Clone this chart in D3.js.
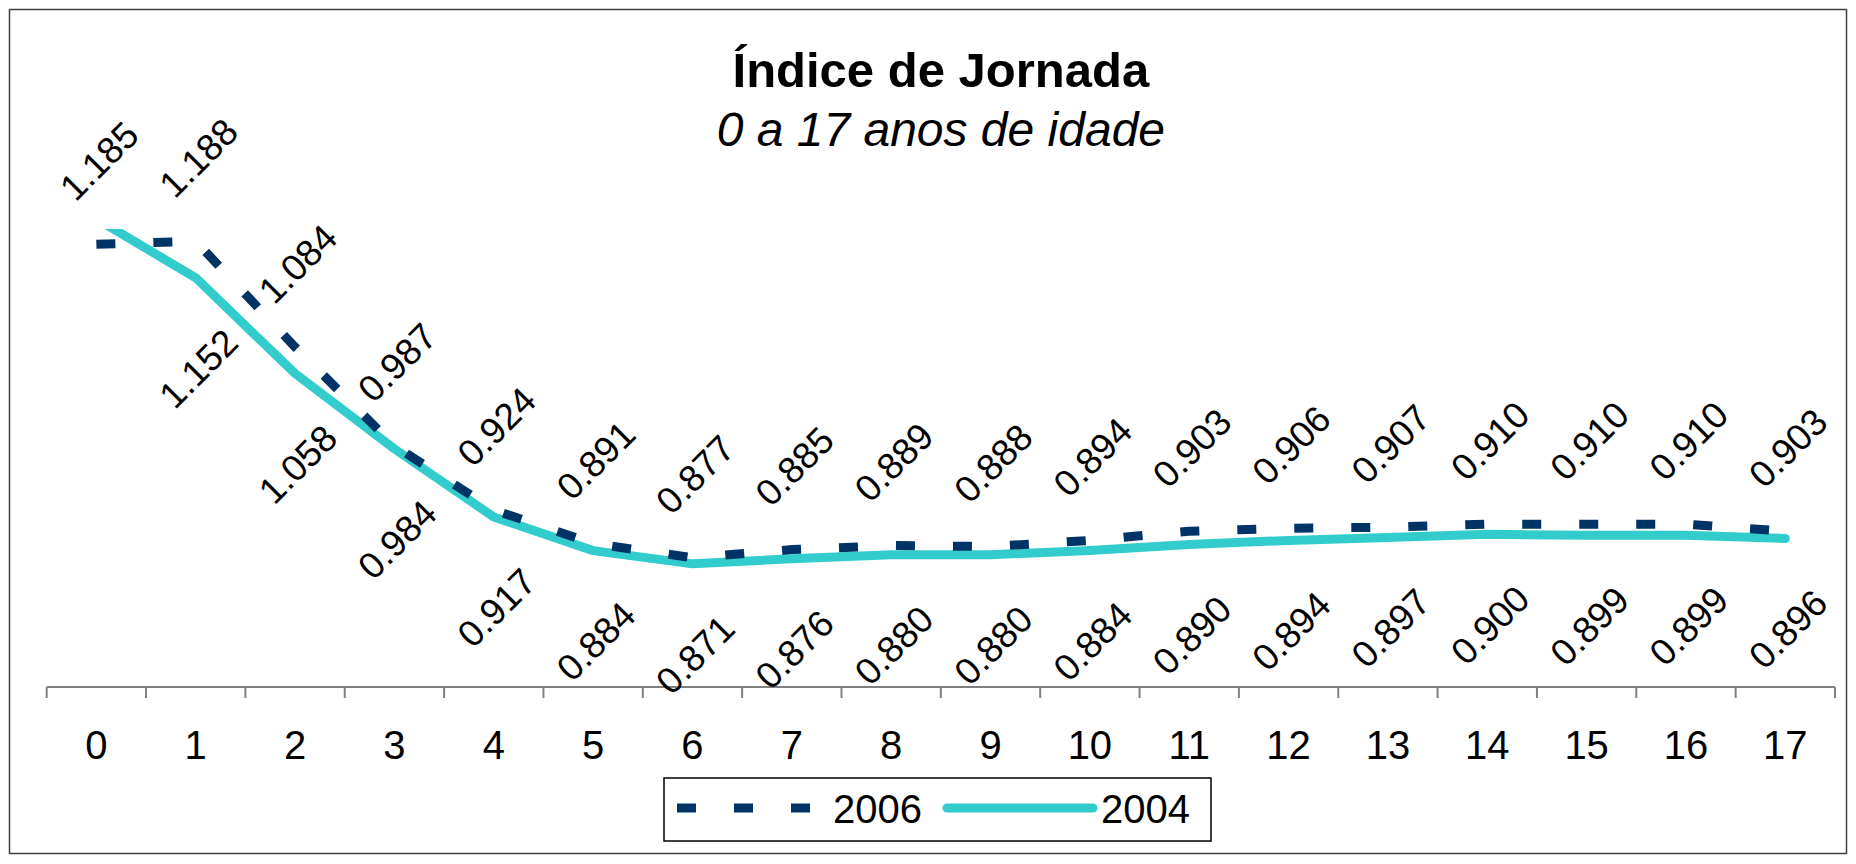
<!DOCTYPE html>
<html>
<head>
<meta charset="utf-8">
<script src="https://cdn.jsdelivr.net/npm/d3@7"></script>
<style>
  html, body { margin: 0; padding: 0; background: #fff; }
  svg { display: block; font-family: Arial, "Liberation Sans", sans-serif; }
</style>
</head>
<body>
<svg id="chart"></svg>
<script>
const AGES     = ["0","1","2","3","4","5","6","7","8","9","10","11","12","13","14","15","16","17"];
const VAL_2006 = [1.185, 1.188, 1.084, 0.987, 0.924, 0.891, 0.877, 0.885, 0.889, 0.888, 0.894, 0.903, 0.906, 0.907, 0.910, 0.910, 0.910, 0.903];
const VAL_2004 = [1.210, 1.152, 1.058, 0.984, 0.917, 0.884, 0.871, 0.876, 0.880, 0.880, 0.884, 0.890, 0.894, 0.897, 0.900, 0.899, 0.899, 0.896];
const Y_DOMAIN = [0.75, 1.2];

const TITLE    = "Índice de Jornada";
const SUBTITLE = "0 a 17 anos de idade";

const W = 1856, H = 864;
const PLOT = { left: 46.7, right: 1835, top: 229, bottom: 687 };

const C_2006 = "#003366";
const C_2004 = "#33CCCC";
const DASH   = "19 38";

const svg = d3.select("#chart").attr("width", W).attr("height", H);

const x = d3.scaleBand().domain(AGES).range([PLOT.left, PLOT.right]).padding(0);
const y = d3.scaleLinear().domain(Y_DOMAIN).range([PLOT.bottom, PLOT.top]);
const cx = (i) => x(AGES[i]) + x.bandwidth() / 2;

// outer frame
svg.append("rect")
  .attr("x", 9.5).attr("y", 9.5)
  .attr("width", 1837).attr("height", 844)
  .attr("fill", "none").attr("stroke", "#404040").attr("stroke-width", 1.5);

// titles
svg.append("text")
  .attr("x", (PLOT.left + PLOT.right) / 2).attr("y", 87)
  .attr("text-anchor", "middle")
  .attr("font-size", 49).attr("font-weight", "bold")
  .text(TITLE);

svg.append("text")
  .attr("x", (PLOT.left + PLOT.right) / 2).attr("y", 146)
  .attr("text-anchor", "middle")
  .attr("font-size", 48).attr("font-style", "italic")
  .text(SUBTITLE);

// x axis: line, boundary ticks, labels
const axis = svg.append("g").attr("class", "x-axis");
axis.append("line")
  .attr("x1", PLOT.left).attr("x2", PLOT.right)
  .attr("y1", PLOT.bottom).attr("y2", PLOT.bottom)
  .attr("stroke", "#808080").attr("stroke-width", 2);

const bounds = AGES.map((a) => x(a)).concat([PLOT.right]);
axis.selectAll("line.tick")
  .data(bounds)
  .enter().append("line")
  .attr("class", "tick")
  .attr("x1", (d) => d).attr("x2", (d) => d)
  .attr("y1", PLOT.bottom).attr("y2", PLOT.bottom + 11)
  .attr("stroke", "#808080").attr("stroke-width", 2);

axis.selectAll("text")
  .data(AGES)
  .enter().append("text")
  .attr("x", (d, i) => cx(i))
  .attr("y", 759)
  .attr("text-anchor", "middle")
  .attr("font-size", 40)
  .text((d) => d);

// clip for lines
svg.append("clipPath").attr("id", "plot-clip")
  .append("rect")
  .attr("x", PLOT.left - 20).attr("y", PLOT.top)
  .attr("width", PLOT.right - PLOT.left + 40)
  .attr("height", PLOT.bottom - PLOT.top);

const line = d3.line()
  .x((d, i) => cx(i))
  .y((d) => y(d));

const lines = svg.append("g").attr("clip-path", "url(#plot-clip)");

lines.append("path")
  .datum(VAL_2004)
  .attr("d", line)
  .attr("fill", "none")
  .attr("stroke", C_2004)
  .attr("stroke-width", 9)
  .attr("stroke-linejoin", "round")
  .attr("stroke-linecap", "round");

lines.append("path")
  .datum(VAL_2006)
  .attr("d", line)
  .attr("fill", "none")
  .attr("stroke", C_2006)
  .attr("stroke-width", 9)
  .attr("stroke-dasharray", DASH);

// data labels (rotated -45), 2006 above, 2004 below
const fmt = d3.format(".3f");
const inRange = (v) => v >= Y_DOMAIN[0] && v <= Y_DOMAIN[1];

function addLabels(values, dy) {
  svg.append("g")
    .selectAll("text")
    .data(values.map((v, i) => ({ v, i })).filter((d) => inRange(d.v)))
    .enter().append("text")
    .attr("transform", (d) => `translate(${cx(d.i) + 3},${y(d.v) + dy}) rotate(-45)`)
    .attr("text-anchor", "middle")
    .attr("dominant-baseline", "central")
    .attr("font-size", 37)
    .text((d) => fmt(d.v));
}
addLabels(VAL_2006, -83);
addLabels(VAL_2004, 91);

// legend
const lg = svg.append("g").attr("class", "legend");
lg.append("rect")
  .attr("x", 664).attr("y", 778)
  .attr("width", 547).attr("height", 63)
  .attr("fill", "#fff").attr("stroke", "#000").attr("stroke-width", 1.5);

lg.append("line")
  .attr("x1", 677).attr("x2", 812)
  .attr("y1", 808).attr("y2", 808)
  .attr("stroke", C_2006).attr("stroke-width", 9)
  .attr("stroke-dasharray", DASH);
lg.append("text")
  .attr("x", 833).attr("y", 823)
  .attr("font-size", 40)
  .text("2006");

lg.append("line")
  .attr("x1", 947).attr("x2", 1093)
  .attr("y1", 808).attr("y2", 808)
  .attr("stroke", C_2004).attr("stroke-width", 9)
  .attr("stroke-linecap", "round");
lg.append("text")
  .attr("x", 1101).attr("y", 823)
  .attr("font-size", 40)
  .text("2004");
</script>
</body>
</html>
